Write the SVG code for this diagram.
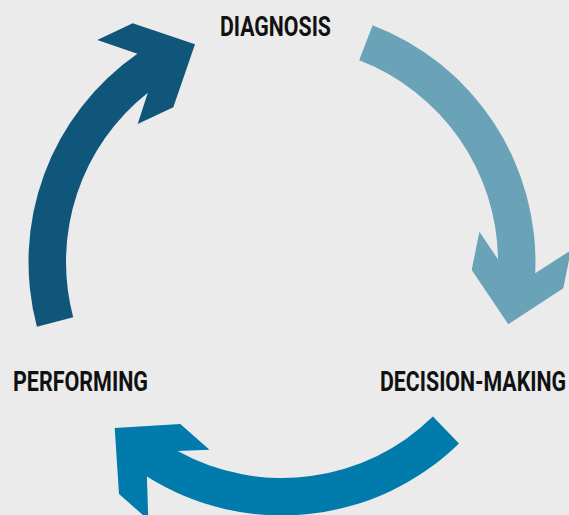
<svg xmlns="http://www.w3.org/2000/svg" width="569" height="515" viewBox="0 0 569 515">
<style>
.lbl{font-family:Roboto,"Liberation Sans",Arial,sans-serif;font-weight:700;font-size:27px;fill:#111;}
</style>
<rect x="0" y="0" width="569" height="515" fill="#ebebeb"/>
<g id="connectors">
<path id="arrow-diagnosis-decision" fill="#6aa3b8" d="M 372.6,25.2 A 253.5 253.5 0 0 1 535.2,273.3 L 571,250.1 L 563.3,288.3 L 508.3,324.3 L 471.7,270 L 479.4,231.8 L 498,259.3 A 216 216 0 0 0 359.2,60.3 Z"/>
<path id="arrow-decision-performing" fill="#007bab" d="M 459,443.4 A 253.5 253.5 0 0 1 146.9,476.5 L 148.3,519.8 L 119,494 L 114.7,428 L 180.3,424 L 209.5,449.8 L 177.6,451.1 A 216 216 0 0 0 432.9,416.6 Z"/>
<path id="arrow-performing-diagnosis" fill="#10557a" d="M 36.9,326.7 A 253.5 253.5 0 0 1 137.4,53.8 L 97.3,40 L 132.7,23.3 L 195,44.3 L 173.3,107.3 L 137.7,124 L 147.8,92.7 A 216 216 0 0 0 73.2,317.2 Z"/>
</g>
<g id="node-diagnosis">
<text class="lbl" transform="translate(220 35.5) scale(0.807 1)" x="0" y="0" textLength="137.5" lengthAdjust="spacingAndGlyphs">DIAGNOSIS</text>
</g>
<g id="node-decision-making">
<text class="lbl" transform="translate(380 390.5) scale(0.807 1)" x="0" y="0" textLength="230.5" lengthAdjust="spacingAndGlyphs">DECISION-MAKING</text>
</g>
<g id="node-performing">
<text class="lbl" transform="translate(13 390.5) scale(0.807 1)" x="0" y="0" textLength="167.3" lengthAdjust="spacingAndGlyphs">PERFORMING</text>
</g>
</svg>
